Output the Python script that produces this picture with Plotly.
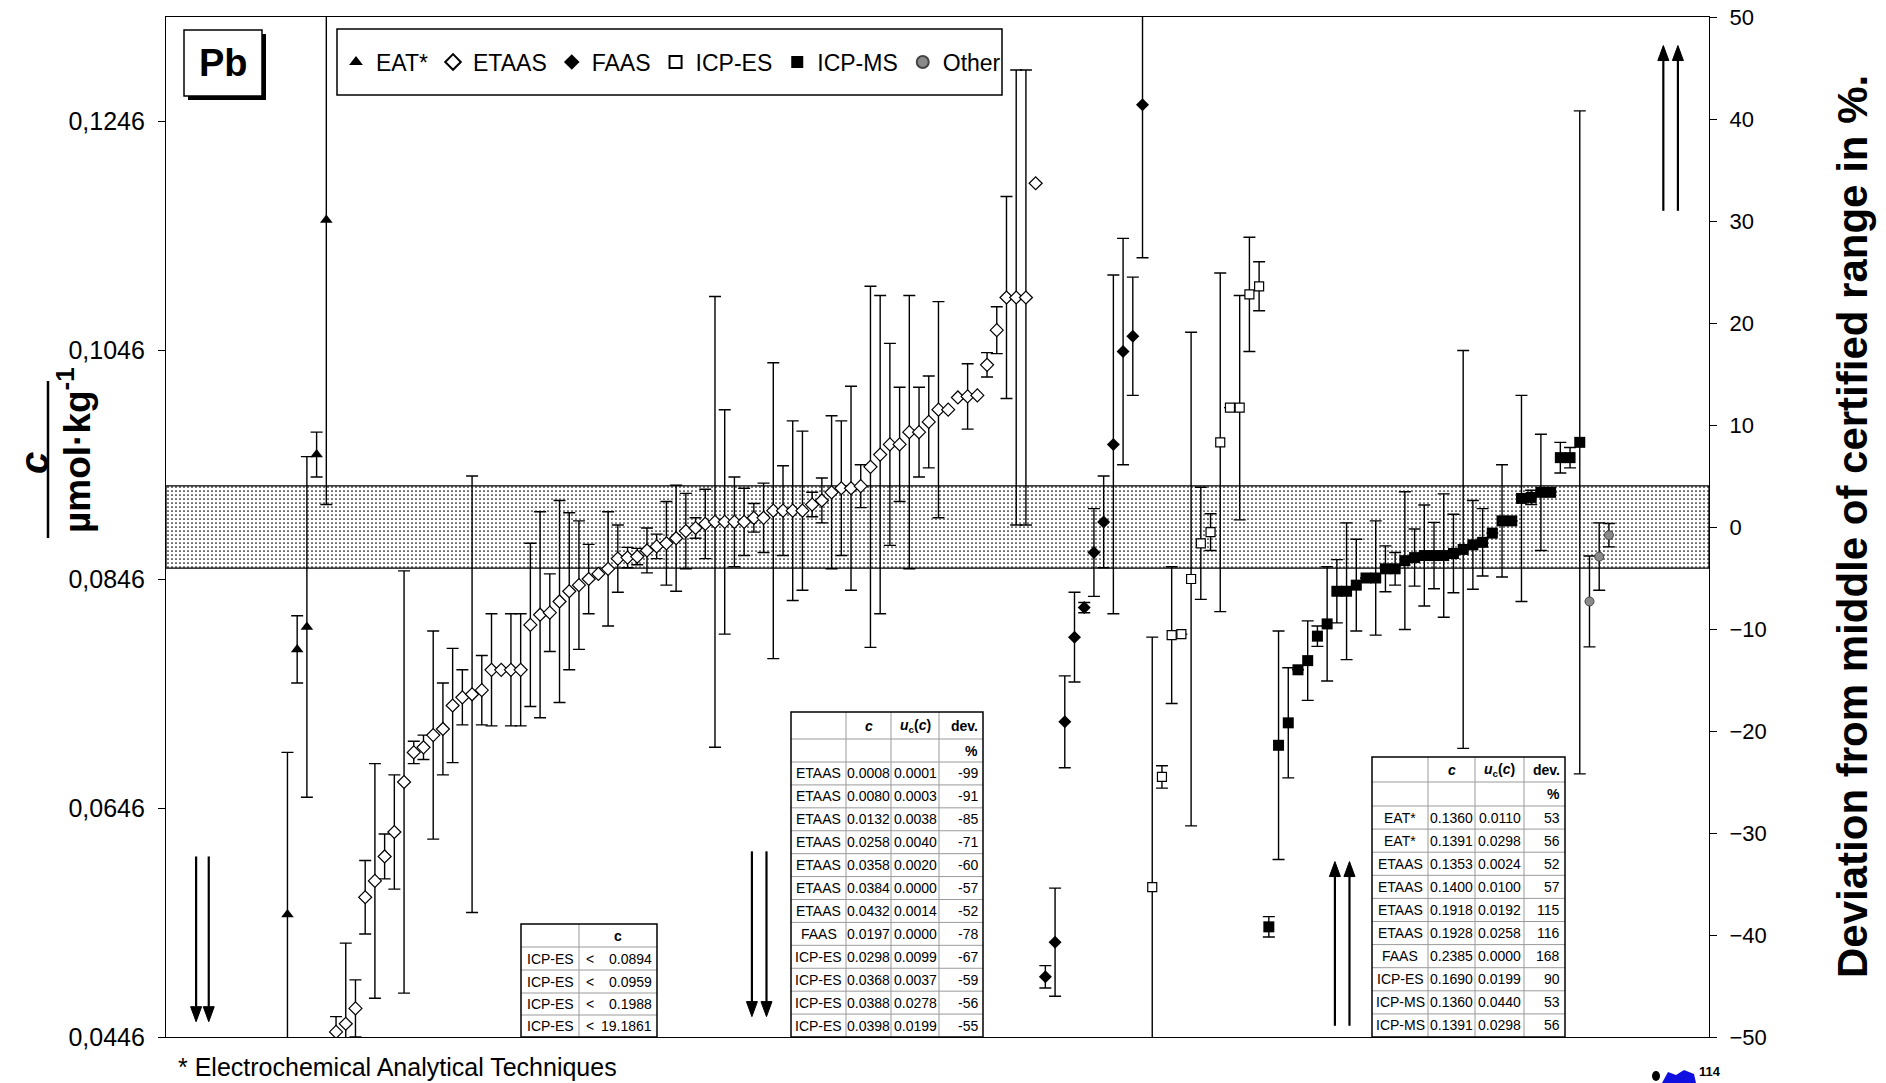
import plotly.graph_objects as go

# ---- page geometry (pixels) -------------------------------------------------
FIG_W, FIG_H = 1886, 1083
M_L, M_R, M_T, M_B = 166, 177, 17, 46
PLOT_W = FIG_W - M_L - M_R
PLOT_H = FIG_H - M_T - M_B
FONT = "Liberation Sans, Arial, sans-serif"
NARROW = "Liberation Sans Narrow, Liberation Sans, Arial, sans-serif"


def px(x):
    """page pixel column -> paper x"""
    return (x - M_L) / PLOT_W


def py(y):
    """page pixel row -> paper y"""
    return (FIG_H - M_B - y) / PLOT_H


# ---- reference value and axis labels ----------------------------------------
c_mid = 0.0891                      # middle of the certified range, umol/kg
cert_low, cert_high = 0.0855, 0.0927
c_ticktext = ["0,0446", "0,0646", "0,0846", "0,1046", "0,1246"]
c_tickvals = [c_mid / 2 + 0.02 * k for k in range(len(c_ticktext))]
x_max = 159.3                       # participant slots shown on the x axis
dev_range = [-50, 50]

# ---- participant results: deviation from middle of range (%) and U (%) -----
eat_lab = list(range(13, 18))
eat_dev = [-38.0, -12.0, -9.8, 7.1, 30.1]
eat_unc = [15.9, 3.3, 16.7, 2.2, 27.9]

etaas_lab = list(range(18, 91))
etaas_dev = [-49.5, -48.7, -47.2, -36.3, -34.7, -32.3, -29.9, -25.0, -22.1, -21.6,
             -20.4, -19.8, -17.5, -16.7, -16.4, -16.0, -14.0, -14.0, -14.0, -14.0,
             -9.6, -8.6, -8.4, -7.3, -6.3, -5.7, -5.1, -4.6, -4.1, -3.1,
             -3.0, -2.9, -2.3, -1.9, -1.6, -1.1, -0.4, -0.1, 0.3, 0.5,
             0.5, 0.5, 0.5, 0.9, 0.9, 1.6, 1.6, 1.6, 1.6, 2.2,
             2.6, 3.4, 3.8, 3.8, 4.0, 5.9, 7.1, 8.1, 8.1, 9.3,
             9.3, 10.3, 11.5, 11.5, 12.7, 12.8, 12.9, 15.9, 19.3, 22.5,
             22.5, 22.5, 33.7]
etaas_unc = [1.5, 7.9, 2.8, 3.6, 11.5, 2.2, 5.6, 20.7, 1.1, 1.2,
             10.2, 4.5, 5.6, 2.7, 21.4, 3.4, 5.5, 0.0, 5.5, 5.5,
             8.0, 10.1, 3.8, 9.9, 7.7, 6.3, 3.4, 0.0, 5.6, 3.3,
             1.0, 0.8, 2.2, 1.2, 4.1, 5.2, 3.7, 1.0, 3.4, 22.1,
             11.0, 4.4, 3.3, 1.4, 3.4, 14.5, 4.4, 8.8, 7.8, 1.2,
             2.2, 7.5, 6.6, 10.0, 2.1, 17.7, 15.6, 9.9, 5.6, 13.4,
             4.4, 4.5, 10.6, 0.0, 0.0, 3.2, 0.0, 1.2, 2.3, 9.9,
             22.3, 22.3, 0.0]

faas_lab = list(range(91, 102))
faas_dev = [-44.1, -40.7, -19.1, -10.8, -7.9, -2.5, 0.5, 8.1, 17.2, 18.7, 41.4]
faas_unc = [1.1, 5.3, 4.5, 4.4, 0.5, 4.3, 4.5, 16.6, 11.1, 5.8, 15.0]

icpes_lab = list(range(102, 114))
icpes_dev = [-35.3, -24.5, -10.6, -10.5, -5.1, -1.6, -0.5, 8.3, 11.7, 11.7, 22.8, 23.6]
icpes_unc = [24.5, 1.1, 6.7, 0.0, 24.2, 5.5, 1.8, 16.6, 0.0, 11.0, 5.6, 2.4]

icpms_lab = list(range(114, 147))
icpms_dev = [-39.2, -21.4, -19.2, -14.0, -13.1, -10.7, -9.5, -6.3, -6.3, -5.7,
             -5.0, -5.0, -4.1, -4.1, -3.3, -3.0, -2.8, -2.8, -2.8, -2.6,
             -2.2, -1.75, -1.5, -0.6, 0.6, 0.6, 2.8, 2.9, 3.4, 3.4,
             6.8, 6.8, 8.3]
icpms_unc = [1.0, 11.2, 5.4, 0.0, 3.9, 1.0, 5.6, 3.1, 6.7, 4.5,
             0.0, 5.6, 2.25, 1.6, 6.75, 2.8, 4.95, 3.25, 6.05, 3.85,
             19.5, 4.35, 3.3, 0.0, 5.5, 0.0, 10.1, 0.7, 5.7, 0.0,
             1.5, 1.0, 32.5]

other_lab = list(range(147, 150))
other_dev = [-7.3, -2.9, -0.8]
other_unc = [4.45, 3.3, 1.15]

# ---- off-scale results listed in the tables --------------------------------
low_limit_method = ["ICP-ES", "ICP-ES", "ICP-ES", "ICP-ES"]
low_limit_value = ["0.0894", "0.0959", "0.1988", "19.1861"]

below_method = ["ETAAS", "ETAAS", "ETAAS", "ETAAS", "ETAAS", "ETAAS", "ETAAS",
                "FAAS", "ICP-ES", "ICP-ES", "ICP-ES", "ICP-ES"]
below_c = ["0.0008", "0.0080", "0.0132", "0.0258", "0.0358", "0.0384", "0.0432",
           "0.0197", "0.0298", "0.0368", "0.0388", "0.0398"]
below_u = ["0.0001", "0.0003", "0.0038", "0.0040", "0.0020", "0.0000", "0.0014",
           "0.0000", "0.0099", "0.0037", "0.0278", "0.0199"]
below_dev = ["-99", "-91", "-85", "-71", "-60", "-57", "-52", "-78", "-67", "-59", "-56", "-55"]

above_method = ["EAT*", "EAT*", "ETAAS", "ETAAS", "ETAAS", "ETAAS", "FAAS",
                "ICP-ES", "ICP-MS", "ICP-MS"]
above_c = ["0.1360", "0.1391", "0.1353", "0.1400", "0.1918", "0.1928", "0.2385",
           "0.1690", "0.1360", "0.1391"]
above_u = ["0.0110", "0.0298", "0.0024", "0.0100", "0.0192", "0.0258", "0.0000",
           "0.0199", "0.0440", "0.0298"]
above_dev = ["53", "56", "52", "57", "115", "116", "168", "90", "53", "56"]

# arrows marking results outside the plotted range (slot, tail %, tip %)
arrow_x = [3.6, 4.9, 60.8, 62.3, 120.8, 122.3, 154.6, 156.1]
arrow_tail = [-32.3, -32.3, -31.8, -31.8, -48.9, -48.9, 31.0, 31.0]
arrow_tip = [-48.5, -48.5, -48.0, -48.0, -32.8, -32.8, 47.2, 47.2]

fig = go.Figure()

# certified range band (left axis, concentration units)
fig.add_trace(go.Scatter(
    x=[0.5, x_max, x_max, 0.5, 0.5],
    y=[cert_low, cert_low, cert_high, cert_high, cert_low],
    mode="lines", fill="toself", line=dict(color="black", width=1.2),
    fillpattern=dict(shape=".", fgcolor="black", bgcolor="white", size=4,
                     solidity=0.14, fillmode="replace"),
    showlegend=False, hoverinfo="skip"))


def add_series(name, labs, dev, unc, marker):
    fig.add_trace(go.Scatter(
        x=labs, y=dev, yaxis="y2", mode="markers", name=name, marker=marker,
        error_y=dict(type="data", array=unc, visible=True, color="black",
                     thickness=1.4, width=6)))


add_series("EAT*", eat_lab, eat_dev, eat_unc,
           dict(symbol="triangle-up", size=11, color="black"))
add_series("ETAAS", etaas_lab, etaas_dev, etaas_unc,
           dict(symbol="diamond", size=10, color="white", line=dict(color="black", width=1.2)))
add_series("FAAS", faas_lab, faas_dev, faas_unc,
           dict(symbol="diamond", size=10, color="black"))
add_series("ICP-ES", icpes_lab, icpes_dev, icpes_unc,
           dict(symbol="square", size=9, color="white", line=dict(color="black", width=1.2)))
add_series("ICP-MS", icpms_lab, icpms_dev, icpms_unc,
           dict(symbol="square", size=11, color="black"))
add_series("Other", other_lab, other_dev, other_unc,
           dict(symbol="circle", size=9, color="#8a8a8a", line=dict(color="#444444", width=1)))

shapes = []
annotations = []

# arrows for off-scale values: shaft plus filled head, in data units
slot_px = PLOT_W / (x_max - 0.5)
pct_px = PLOT_H / (dev_range[1] - dev_range[0])
head_half = 5.5 / slot_px
head_len = 15.0 / pct_px
for xa, t0, t1 in zip(arrow_x, arrow_tail, arrow_tip):
    sgn = 1 if t1 > t0 else -1
    base = t1 - sgn * head_len
    shapes.append(dict(type="line", xref="x", yref="y2", layer="above",
                       x0=xa, x1=xa, y0=t0, y1=base,
                       line=dict(color="black", width=2.2)))
    shapes.append(dict(type="path", xref="x", yref="y2", layer="above",
                       path=f"M {xa - head_half},{base} L {xa + head_half},{base} L {xa},{t1} Z",
                       fillcolor="black", line=dict(color="black", width=1)))


def draw_table(xe, ye, rows, aligns, size=14):
    shapes.append(dict(type="rect", xref="paper", yref="paper", layer="above",
                       x0=px(xe[0]), x1=px(xe[-1]), y0=py(ye[-1]), y1=py(ye[0]),
                       fillcolor="white", line=dict(width=0)))
    for xv in xe[1:-1]:
        shapes.append(dict(type="line", xref="paper", yref="paper", layer="above",
                           x0=px(xv), x1=px(xv), y0=py(ye[-1]), y1=py(ye[0]),
                           line=dict(color="#9a9a9a", width=1)))
    for yv in ye[1:-1]:
        shapes.append(dict(type="line", xref="paper", yref="paper", layer="above",
                           x0=px(xe[0]), x1=px(xe[-1]), y0=py(yv), y1=py(yv),
                           line=dict(color="#9a9a9a", width=1)))
    shapes.append(dict(type="rect", xref="paper", yref="paper", layer="above",
                       x0=px(xe[0]), x1=px(xe[-1]), y0=py(ye[-1]), y1=py(ye[0]),
                       line=dict(color="black", width=1.5)))
    for r, row in enumerate(rows):
        yc = py((ye[r] + ye[r + 1]) / 2)
        for c, text in enumerate(row):
            if not text:
                continue
            a = aligns[c]
            if a == "right":
                xa, xanc = px(xe[c + 1] - 3), "right"
            elif a == "left":
                xa, xanc = px(xe[c] + 4), "left"
            else:
                xa, xanc = px((xe[c] + xe[c + 1]) / 2), "center"
            annotations.append(dict(x=xa, y=yc, xref="paper", yref="paper", text=text,
                                    showarrow=False, xanchor=xanc, yanchor="middle",
                                    font=dict(family=NARROW, size=size, color="black")))


# table of "less than" results
lt_rows = [["", "<b>c</b>"]] + [[m, ""] for m in low_limit_method]
lt_ye = [924, 947, 970, 993, 1015, 1037]
lt_xe = [521, 579, 657]
draw_table(lt_xe, lt_ye, lt_rows, ["center", "center"])
for r, v in enumerate(low_limit_value):
    yc = py((lt_ye[r + 1] + lt_ye[r + 2]) / 2)
    annotations.append(dict(x=px(lt_xe[1] + 5), y=yc, xref="paper", yref="paper", text="<",
                            showarrow=False, xanchor="left", yanchor="middle",
                            font=dict(family=NARROW, size=14, color="black")))
    annotations.append(dict(x=px(lt_xe[2] - 3), y=yc, xref="paper", yref="paper", text=v,
                            showarrow=False, xanchor="right", yanchor="middle",
                            font=dict(family=NARROW, size=14, color="black")))

head = ["", "<b><i>c</i></b>", "<b><i>u</i><sub>c</sub>(<i>c</i>)</b>", "<b>dev.</b>"]
unit = ["", "", "", "<b>%</b>"]
aligns = ["center", "center", "center", "right"]

# results far below the range
below_rows = [head, unit] + [list(t) for t in zip(below_method, below_c, below_u, below_dev)]
below_ye = [712, 739, 762] + [762 + (1037 - 762) * (k + 1) / 12 for k in range(12)]
draw_table([791, 846, 891, 939, 983], below_ye, below_rows, aligns)

# results far above the range
above_rows = [head, unit] + [list(t) for t in zip(above_method, above_c, above_u, above_dev)]
above_ye = [757, 782, 806] + [806 + (1037 - 806) * (k + 1) / 10 for k in range(10)]
draw_table([1372, 1428, 1475, 1524, 1565], above_ye, above_rows, aligns)

# element label box with shadow
shapes.append(dict(type="rect", xref="paper", yref="paper", layer="above",
                   x0=px(188), x1=px(266), y0=py(100), y1=py(34),
                   fillcolor="black", line=dict(width=0)))
shapes.append(dict(type="rect", xref="paper", yref="paper", layer="above",
                   x0=px(184), x1=px(262), y0=py(96), y1=py(30),
                   fillcolor="white", line=dict(color="black", width=1.5)))
annotations.append(dict(x=px(223), y=py(63), xref="paper", yref="paper", text="<b>Pb</b>",
                        showarrow=False, xanchor="center", yanchor="middle",
                        font=dict(family=FONT, size=38, color="black")))

# legend frame
shapes.append(dict(type="rect", xref="paper", yref="paper", layer="above",
                   x0=px(337), x1=px(1002), y0=py(95), y1=py(29),
                   fillcolor="rgba(0,0,0,0)", line=dict(color="black", width=1.5)))

# left axis title drawn as a rotated fraction c / (umol kg-1)
annotations.append(dict(x=px(34), y=py(463), xref="paper", yref="paper",
                        text="<b><i>c</i></b>", textangle=-90, showarrow=False,
                        xanchor="center", yanchor="middle",
                        font=dict(family=FONT, size=40, color="black")))
shapes.append(dict(type="line", xref="paper", yref="paper", layer="above",
                   x0=px(48), x1=px(48), y0=py(538), y1=py(381),
                   line=dict(color="black", width=2.5)))
annotations.append(dict(x=px(74), y=py(450), xref="paper", yref="paper",
                        text="<b>µmol·kg<sup>-1</sup></b>", textangle=-90, showarrow=False,
                        xanchor="center", yanchor="middle",
                        font=dict(family=FONT, size=37, color="black")))

# right axis title
annotations.append(dict(x=px(1852), y=py(526), xref="paper", yref="paper",
                        text="<b>Deviation from middle of certified range in %.</b>",
                        textangle=-90, showarrow=False, xanchor="center", yanchor="middle",
                        font=dict(family=FONT, size=42, color="black")))

# footnote
annotations.append(dict(x=px(176), y=py(1067), xref="paper", yref="paper",
                        text="* Electrochemical Analytical Techniques", showarrow=False,
                        xanchor="left", yanchor="middle",
                        font=dict(family=FONT, size=25, color="black")))

# corner logo
shapes.append(dict(type="circle", xref="paper", yref="paper", layer="above",
                   x0=px(1652), x1=px(1660), y0=py(1081), y1=py(1071),
                   fillcolor="black", line=dict(width=0)))
shapes.append(dict(type="path", xref="paper", yref="paper", layer="above",
                   path=(f"M {px(1662)},{py(1083)} L {px(1668)},{py(1072)} L {px(1676)},{py(1075)} "
                         f"L {px(1684)},{py(1070)} L {px(1694)},{py(1074)} L {px(1696)},{py(1083)} Z"),
                   fillcolor="#1010e0", line=dict(width=0)))
annotations.append(dict(x=px(1697), y=py(1081), xref="paper", yref="paper",
                        text="<b>114</b>", showarrow=False, xanchor="left", yanchor="bottom",
                        font=dict(family=FONT, size=13, color="black")))

fig.update_layout(
    width=FIG_W, height=FIG_H, template="none",
    margin=dict(l=M_L, r=M_R, t=M_T, b=M_B, pad=0),
    paper_bgcolor="white", plot_bgcolor="white",
    font=dict(family=FONT, color="black"),
    showlegend=True,
    legend=dict(orientation="h", x=px(336), xanchor="left", y=py(62), yanchor="middle",
                font=dict(family=FONT, size=23, color="black"), itemsizing="constant",
                bgcolor="rgba(0,0,0,0)", borderwidth=0),
    xaxis=dict(range=[0.5, x_max], showline=True, mirror=True, linecolor="black",
               linewidth=1.2, showticklabels=False, ticks="", showgrid=False,
               zeroline=False),
    yaxis=dict(range=[c_mid * 0.5, c_mid * 1.5], tickvals=c_tickvals, ticktext=c_ticktext,
               ticks="outside", ticklen=7, tickcolor="black", showline=True,
               linecolor="black", linewidth=1.2, showgrid=False, zeroline=False,
               ticklabelstandoff=8, tickfont=dict(family=FONT, size=25, color="black")),
    yaxis2=dict(overlaying="y", side="right", range=dev_range, tick0=-50, dtick=10,
                ticks="outside", ticklen=7, tickcolor="black", showline=True,
                linecolor="black", linewidth=1.2, showgrid=False, zeroline=False,
                ticklabelstandoff=8, tickfont=dict(family=FONT, size=22, color="black")),
    shapes=shapes, annotations=annotations,
)

fig.write_html("out.html")
